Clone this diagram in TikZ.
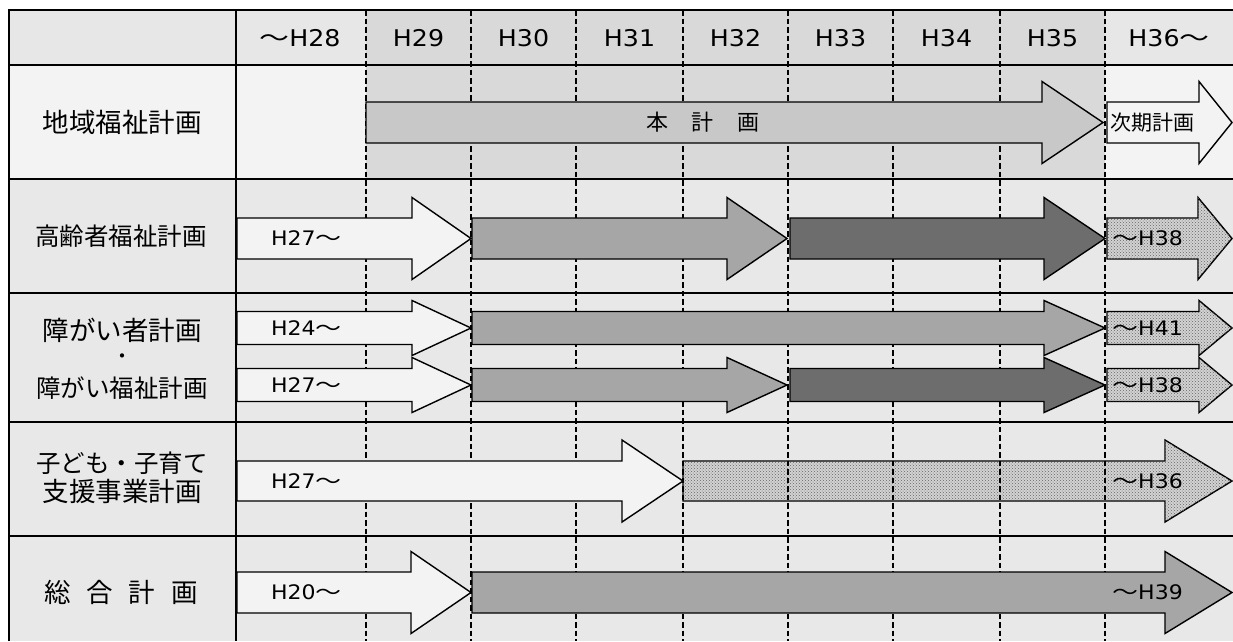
\documentclass[tikz,border=0pt]{standalone}
\usepackage{fontspec}
\setmainfont{DejaVu Sans}
\newfontfamily\latf{DejaVu Sans}[FakeStretch=1.1]
\newfontfamily\jpf{Noto Sans CJK JP}
\newfontfamily\jpwave{Noto Sans CJK JP}[FakeStretch=1.3]

\usetikzlibrary{patterns}

\definecolor{hdrgray}{HTML}{E7E7E7}
\definecolor{planbg}{HTML}{D9D9D9}
\definecolor{palebg}{HTML}{F3F3F3}
\definecolor{rowbg}{HTML}{E8E8E8}
\definecolor{arrwhite}{HTML}{F3F3F3}
\definecolor{arrmain}{HTML}{C8C8C8}
\definecolor{arrmid}{HTML}{A6A6A6}
\definecolor{arrdark}{HTML}{6D6D6D}
\definecolor{arrdot}{HTML}{D2D2D2}

\newcommand\wv{{\jpwave ～}}
% block arrow: style, left x, head start x, tip x, centre y, body half height, head half height
\newcommand\blockarrow[7]{%
  \draw[#1] (#2,#5-#6) -- (#3,#5-#6) -- (#3,#5-#7) -- (#4,#5)
    -- (#3,#5+#7) -- (#3,#5+#6) -- (#2,#5+#6) -- cycle;}

\begin{document}
\begin{tikzpicture}[x=1pt,y=-1pt,
  barrow/.style={draw=black,line width=1.4pt,line join=miter},
  whitearrow/.style={barrow,fill=arrwhite},
  mainarrow/.style={barrow,fill=arrmain},
  midarrow/.style={barrow,fill=arrmid},
  darkarrow/.style={barrow,fill=arrdark},
  dotarrow/.style={barrow,fill=arrdot,postaction={pattern=crosshatch dots,pattern color=black!60}},
  yearlabel/.style={font=\latf\fontsize{23}{27}\selectfont,inner sep=0pt},
  arrowtext/.style={font=\latf\fontsize{20}{24}\selectfont,inner sep=0pt,anchor=west},
  planlabel/.style={font=\jpf\fontsize{26.5}{30}\selectfont,inner sep=0pt},
  planlabelsmall/.style={font=\jpf\fontsize{24.5}{28}\selectfont,inner sep=0pt},
  colline/.style={line width=1.8pt,dash pattern=on 5.5pt off 3pt},
  rowline/.style={line width=1.8pt}]
\useasboundingbox (0,0) rectangle (1233,641);

% cell backgrounds
\fill[rowbg] (9,179) rectangle (1233,641);
\fill[hdrgray] (9,10) rectangle (366,65);
\fill[hdrgray] (1105,10) rectangle (1233,65);
\fill[planbg] (366,10) rectangle (1105,179);
\fill[palebg] (9,65) rectangle (366,179);
\fill[palebg] (1105,65) rectangle (1233,179);

% stippled arrows sit under the year grid
\blockarrow{dotarrow}{1107}{1198}{1232}{238.5}{20.5}{41}
\blockarrow{dotarrow}{1107}{1199}{1232}{328}{16.5}{27.5}
\blockarrow{dotarrow}{1107}{1199}{1232}{385}{16.5}{27.5}
\blockarrow{dotarrow}{683}{1165}{1232}{481}{20}{41}

% year grid
\foreach \gx in {366,471,576,683,788,893,1000,1105}
  \draw[colline] (\gx,10) -- (\gx,641);

% row 1
\blockarrow{mainarrow}{366}{1042}{1103}{122.5}{20.5}{41}
\blockarrow{whitearrow}{1107}{1199}{1232}{122.5}{20.5}{41}
% row 2
\blockarrow{whitearrow}{237}{412}{471}{238.5}{20.5}{41}
\blockarrow{midarrow}{472}{727}{787}{238.5}{20.5}{41}
\blockarrow{darkarrow}{790}{1044}{1105}{238.5}{20.5}{41}
% row 3
\blockarrow{whitearrow}{237}{412}{471}{328}{16.5}{27.5}
\blockarrow{midarrow}{472}{1044}{1105}{328}{16.5}{27.5}
\blockarrow{whitearrow}{237}{412}{471}{385}{16.5}{27.5}
\blockarrow{midarrow}{472}{727}{787}{385}{16.5}{27.5}
\blockarrow{darkarrow}{790}{1044}{1105}{385}{16.5}{27.5}
% row 4
\blockarrow{whitearrow}{237}{622}{683}{481}{20}{41}
% row 5
\blockarrow{whitearrow}{237}{411}{471}{592.5}{20.5}{41}
\blockarrow{midarrow}{472}{1165}{1232}{592.5}{20.5}{41}

% table rules
\foreach \ry in {65,179,293,422,536}
  \draw[rowline] (9,\ry) -- (1233,\ry);
\draw[rowline] (236,10) -- (236,641);
\draw[line width=2pt] (9,641) -- (9,10) -- (1233,10);

% header years
\node[yearlabel] (y28) at (300,38) {\wv H28};
\node[yearlabel] (y29) at (418.5,38) {H29};
\node[yearlabel] (y30) at (523.5,38) {H30};
\node[yearlabel] (y31) at (629.5,38) {H31};
\node[yearlabel] (y32) at (735.5,38) {H32};
\node[yearlabel] (y33) at (840.5,38) {H33};
\node[yearlabel] (y34) at (946.5,38) {H34};
\node[yearlabel] (y35) at (1052.5,38) {H35};
\node[yearlabel] (y36) at (1169,38) {H36\wv};

% plan names
\node[planlabel] (p1) at (122,122) {地域福祉計画};
\node[planlabelsmall] (p2) at (121,236) {高齢者福祉計画};
\node[planlabel] (p3a) at (122,330) {障がい者計画};
\node[font=\jpf\fontsize{20}{22}\selectfont,inner sep=0pt] (p3b) at (122,359) {・};
\node[planlabelsmall] (p3c) at (122,388) {障がい福祉計画};
\node[planlabelsmall] (p4a) at (122,463) {子ども・子育て};
\node[planlabel] (p4b) at (122,491) {支援事業計画};
\node[planlabel] (p5) at (121,592) {総\hspace{16pt}合\hspace{16pt}計\hspace{16pt}画};

% arrow texts
\node[font=\jpf\fontsize{22}{26}\selectfont,inner sep=0pt] (t1) at (703,122) {本\hspace{24pt}計\hspace{24pt}画};
\node[font=\jpf\fontsize{21}{25}\selectfont,inner sep=0pt,anchor=west] (t2) at (1110,123) {次期計画};
\node[arrowtext] (t3) at (271,238.5) {H27\wv};
\node[arrowtext] (t4) at (1112,238.5) {\wv H38};
\node[arrowtext] (t5) at (271,328) {H24\wv};
\node[arrowtext] (t6) at (1112,328) {\wv H41};
\node[arrowtext] (t7) at (271,385) {H27\wv};
\node[arrowtext] (t8) at (1112,385) {\wv H38};
\node[arrowtext] (t9) at (271,481) {H27\wv};
\node[arrowtext] (t10) at (1112,481) {\wv H36};
\node[arrowtext] (t11) at (271,592.5) {H20\wv};
\node[arrowtext] (t12) at (1112,592.5) {\wv H39};
\end{tikzpicture}
\end{document}
